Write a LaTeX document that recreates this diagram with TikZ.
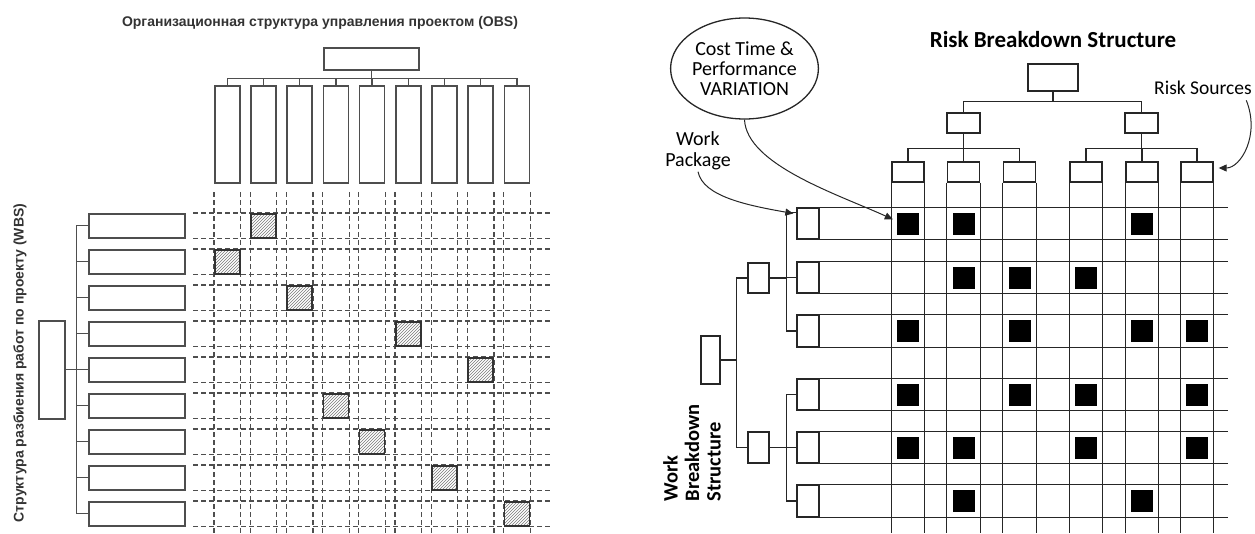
\documentclass[tikz,border=0pt]{standalone}
\usepackage{fontspec}
\setmainfont{Carlito}
\newfontfamily\rusfont{Liberation Sans}
\usetikzlibrary{arrows.meta,positioning,shapes.geometric,patterns,calc}
\definecolor{obsGray}{HTML}{4E4E4E}
\definecolor{hatchGray}{HTML}{7A7A7A}
\definecolor{rbsLine}{HTML}{262626}
\tikzset{
  obsbox/.style={draw=obsGray, line width=1.5pt, inner sep=0pt, anchor=north west},
  dashline/.style={draw=obsGray, line width=1.2pt, dash pattern=on 5pt off 3pt},
  hatchcell/.style={draw=black!80, line width=1.6pt, inner sep=0pt, minimum width=25pt, minimum height=24pt, pattern=north east lines, pattern color=hatchGray},
  treeline/.style={draw=obsGray, line width=1.3pt},
  rbsbox/.style={draw=rbsLine, line width=1.3pt, inner sep=0pt, fill=white},
  gridline/.style={draw=rbsLine, line width=1.1pt},
  riskcell/.style={fill=black, inner sep=0pt, minimum size=22pt},
  pointer/.style={draw=black!85, line width=1pt, -{Triangle[length=8pt,width=7pt]}},
}

\begin{document}
\begin{tikzpicture}[x=1pt, y=-1pt]
\useasboundingbox (0,0) rectangle (1255,533);

% ---- left: OBS x WBS matrix
\node[font=\rusfont\bfseries\fontsize{14}{15}\selectfont, text=black!80] (obstitle) at (320,23) {Организационная структура управления проектом (OBS)};
\node[obsbox, minimum width=95pt, minimum height=22pt] (obsroot) at (323,47) {};
\foreach \i in {1,...,9}
  \node[obsbox, minimum width=25pt, minimum height=97pt] (obs\i) at ({214+36.2*(\i-1)},85) {};
\foreach \i in {1,...,9}
  \draw[treeline] (obsroot.south) -- ++(0,8) -| (obs\i.north);

\node[rotate=90, font=\rusfont\bfseries\fontsize{14}{15}\selectfont, text=black!80] (wbstitle) at (20,363) {Структура разбиения работ по проекту (WBS)};
\node[obsbox, minimum width=26pt, minimum height=98pt] (wbsroot) at (38,320) {};
\foreach \j in {1,...,9}
  \node[obsbox, minimum width=96pt, minimum height=24pt] (wbs\j) at (88,{213+36*(\j-1)}) {};
\foreach \j in {1,...,9}
  \draw[treeline] (wbsroot.east) -- ++(11,0) |- (wbs\j.west);

\coordinate (gridtop) at (0,192);
\coordinate (gridbot) at (0,533);
\coordinate (gridleft) at (193,0);
\coordinate (gridright) at (552,0);
\foreach \i in {1,...,9} {
  \draw[dashline] (obs\i.south west |- gridtop) -- (obs\i.south west |- gridbot);
  \draw[dashline] (obs\i.south east |- gridtop) -- (obs\i.south east |- gridbot);
}
\foreach \j in {1,...,9} {
  \draw[dashline] (wbs\j.north east -| gridleft) -- (wbs\j.north east -| gridright);
  \draw[dashline] (wbs\j.south east -| gridleft) -- (wbs\j.south east -| gridright);
}
\foreach \j/\i in {1/2, 2/1, 3/3, 4/6, 5/8, 6/4, 7/5, 8/7, 9/9}
  \node[hatchcell, fill=white] (hatch\j) at (obs\i |- wbs\j) {};
\foreach \j/\i in {1/2, 2/1, 3/3, 4/6, 5/8, 6/4, 7/5, 8/7, 9/9}
  \node[hatchcell] at (hatch\j) {};

% ---- right: RBS x WBS matrix
\node[font=\bfseries\fontsize{23}{23}\selectfont] (rbstitle) at (1053,40) {Risk Breakdown Structure};
\node[rbsbox, minimum width=50pt, minimum height=27pt] (rbs) at (1053,77.5) {};
\node[rbsbox, minimum width=33pt, minimum height=20pt] (rbsA) at (963.5,123) {};
\node[rbsbox, minimum width=33pt, minimum height=20pt] (rbsB) at (1141.5,123) {};
\draw[gridline] (rbs.south) -- ++(0,10) -| (rbsA.north);
\draw[gridline] (rbs.south) -- ++(0,10) -| (rbsB.north);

\coordinate (rgridR) at (1228,0);
\coordinate (rgridB) at (0,533);
\foreach \i/\cx in {1/908, 2/963.5, 3/1019.5, 4/1086, 5/1142, 6/1197}
  \node[rbsbox, minimum width=32pt, minimum height=20pt] (rs\i) at (\cx,172) {};
\foreach \i in {1,2,3}
  \draw[gridline] (rbsA.south) -- ++(0,15) -| (rs\i.north);
\foreach \i in {4,5,6}
  \draw[gridline] (rbsB.south) -- ++(0,15) -| (rs\i.north);
\foreach \i in {1,...,6} {
  \draw[gridline] (rs\i.south west) -- (rs\i.south west |- rgridB);
  \draw[gridline] (rs\i.south east) -- (rs\i.south east |- rgridB);
}

\node[rbsbox, minimum width=19pt, minimum height=48pt] (wroot) at (710.5,360) {};
\node[rbsbox, minimum width=21pt, minimum height=30pt] (wA) at (758.5,278) {};
\node[rbsbox, minimum width=21pt, minimum height=31pt] (wB) at (758.5,447.5) {};
\draw[gridline] (wroot.east) -- ++(16,0) |- (wA.west);
\draw[gridline] (wroot.east) -- ++(16,0) |- (wB.west);
\foreach \j/\cy in {1/223.5, 2/277.5, 3/331, 4/394.5, 5/447.5, 6/501}
  \node[rbsbox, minimum width=22pt, minimum height=31pt] (wp\j) at (808,\cy) {};
\draw[gridline] (wA.east) -- ++(17,0) |- ([yshift=-5pt]wp1.north west);
\draw[gridline] (wA.east) -- ++(17,0) |- (wp2.west);
\draw[gridline] (wA.east) -- ++(17,0) |- (wp3.west);
\foreach \j in {4,5,6}
  \draw[gridline] (wB.east) -- ++(17,0) |- (wp\j.west);
\foreach \j in {1,...,6} {
  \draw[gridline] (wp\j.north west) -- (wp\j.north west -| rgridR);
  \draw[gridline] (wp\j.south west) -- (wp\j.south west -| rgridR);
}

\foreach \j/\i in {1/1, 1/2, 1/5, 2/2, 2/3, 2/4, 3/1, 3/3, 3/5, 3/6, 4/1, 4/3, 4/4, 4/6, 5/1, 5/2, 5/4, 5/6, 6/2, 6/5}
  \node[riskcell] (cell\j\i) at (rs\i |- wp\j) {};

\node[rotate=90, align=left, font=\bfseries\fontsize{20.5}{21.5}\selectfont] (wbslabel) at (692,453) {Work\\Breakdown\\Structure};
\node[draw=black!85, line width=1.3pt, ellipse, inner sep=0pt, minimum width=143pt, minimum height=101pt, align=center, font=\fontsize{20}{20}\selectfont] (cost) at (744.5,68.5) {Cost Time \&\\Performance\\VARIATION};
\node[align=center, font=\fontsize{20}{21}\selectfont] (wpk) at (698,151) {Work\\Package};
\node[font=\fontsize{19.5}{20}\selectfont] (rsrc) at (1203,88) {Risk Sources};

\draw[pointer] (cost.south) .. controls +(2,45) and +(-55,-25) .. ([xshift=-4pt,yshift=-7pt]cell11.north west);
\draw[pointer] ([yshift=2pt]wpk.south) .. controls +(5,25) and +(-45,-8) .. ([xshift=-3pt,yshift=10pt]wp1.west);
\draw[pointer] ([xshift=-9pt,yshift=-2pt]rsrc.south east) .. controls +(14,35) and +(22,0) .. ([xshift=5pt,yshift=4pt]rs6.east);
\end{tikzpicture}
\end{document}
